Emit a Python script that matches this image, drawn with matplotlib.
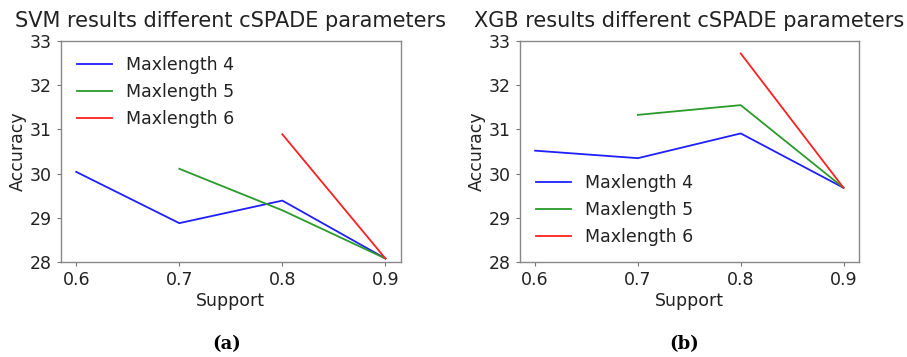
import matplotlib
matplotlib.use("Agg")
import matplotlib.pyplot as plt

# Support values (x axis)
support_4 = [0.6, 0.7, 0.8, 0.9]
support_5 = [0.7, 0.8, 0.9]
support_6 = [0.8, 0.9]

# SVM accuracy per maxlength
svm_max4 = [30.04, 28.88, 29.39, 28.08]
svm_max5 = [30.11, 29.17, 28.08]
svm_max6 = [30.89, 28.08]

# XGB accuracy per maxlength
xgb_max4 = [30.52, 30.35, 30.91, 29.68]
xgb_max5 = [31.33, 31.55, 29.68]
xgb_max6 = [32.72, 29.68]

labels = ["Maxlength 4", "Maxlength 5", "Maxlength 6"]
colors = ["#1f1fff", "#2a9a2a", "#ff2020"]
titles = ["SVM results different cSPADE parameters",
          "XGB results different cSPADE parameters"]
captions = ["(a)", "(b)"]

fig = plt.figure(figsize=(9.07, 3.57), dpi=100)
ax1 = fig.add_axes([0.067, 0.266, 0.375, 0.619])
ax2 = fig.add_axes([0.573, 0.266, 0.374, 0.619])

text_color = "#222222"
panels = [
    (ax1, [svm_max4, svm_max5, svm_max6], "upper left", (0.0, 1.005)),
    (ax2, [xgb_max4, xgb_max5, xgb_max6], "lower left", (0.0, -0.002)),
]
for i, (ax, series, loc, anchor) in enumerate(panels):
    xs = [support_4, support_5, support_6]
    for x, y, lab, c in zip(xs, series, labels, colors):
        ax.plot(x, y, color=c, lw=1.3, label=lab)
    ax.set_ylim(28, 33)
    ax.set_xlim(0.585, 0.915)
    ax.set_xticks([0.6, 0.7, 0.8, 0.9])
    ax.set_yticks([28, 29, 30, 31, 32, 33])
    ax.tick_params(labelsize=12.5, colors=text_color, length=3, color="#777777")
    for sp in ax.spines.values():
        sp.set_color("#888888")
        sp.set_linewidth(1.0)
    ax.set_xlabel("Support", fontsize=12.5, color=text_color, labelpad=2)
    ax.set_ylabel("Accuracy", fontsize=12.5, color=text_color, labelpad=2)
    ax.set_title(titles[i], fontsize=15, color=text_color, pad=10)
    leg = ax.legend(loc=loc, bbox_to_anchor=anchor, frameon=False,
                    fontsize=12.5, handlelength=2.0, labelspacing=0.52,
                    borderaxespad=0.55)
    for t in leg.get_texts():
        t.set_color(text_color)

fig.text(0.250, 0.022, captions[0], ha="center", fontsize=13,
         family="DejaVu Serif", weight="bold")
fig.text(0.754, 0.022, captions[1], ha="center", fontsize=13,
         family="DejaVu Serif", weight="bold")

fig.savefig("out.png", dpi=100)
